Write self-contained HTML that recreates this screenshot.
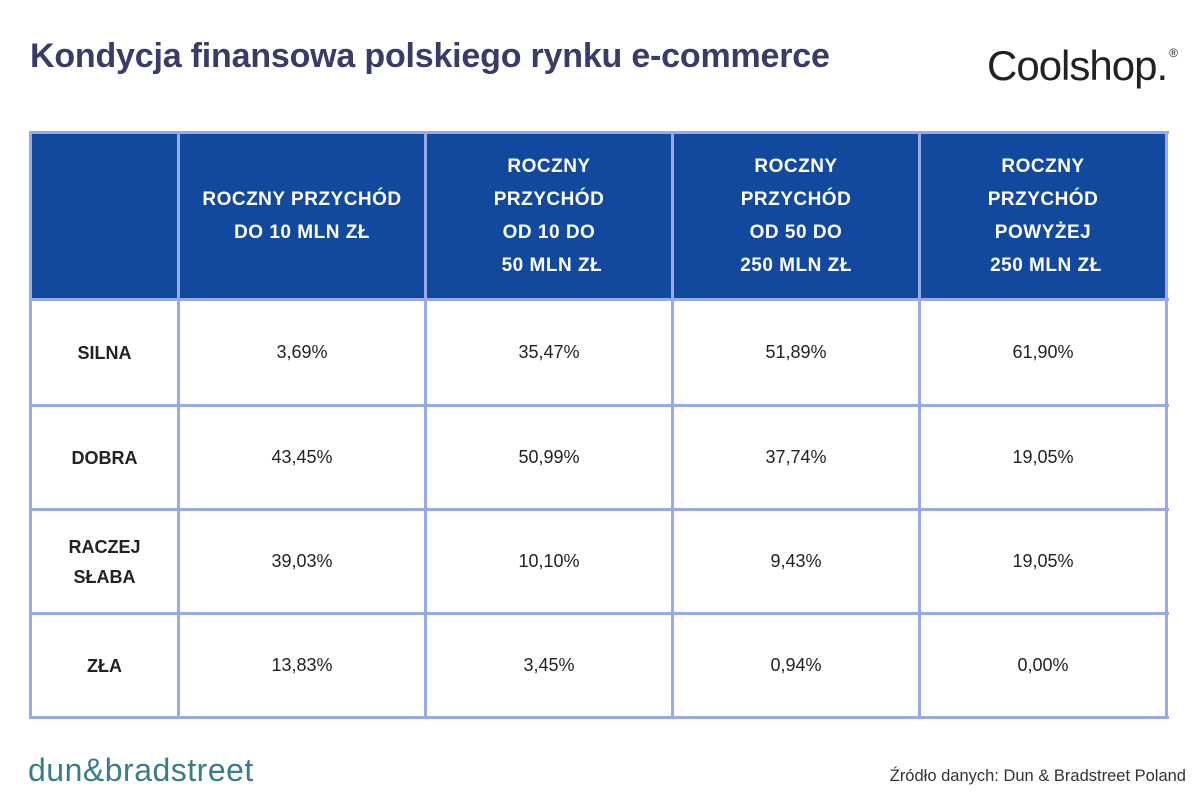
<!DOCTYPE html>
<html><head><meta charset="utf-8"><style>
body{margin:0;width:1200px;height:800px;background:#fff;position:relative;overflow:hidden;font-family:"Liberation Sans",sans-serif}
.t{position:absolute;left:30px;top:37px;font-size:34px;font-weight:bold;color:#3b3b68;letter-spacing:-0.2px}
.logo{position:absolute;left:987px;top:42px;font-size:42px;color:#222;letter-spacing:-1px}
.logo sup{font-size:12px;vertical-align:top;position:relative;top:4px;margin-left:2px}
.hb{position:absolute;left:30px;top:132px;width:1137px;height:167px;background:#12499f}
.v{position:absolute;top:131px;height:588px;width:3px;background:#9aa9ea}
.h{position:absolute;left:29px;width:1140px;height:3px;background:#9aa9ea}
.c{position:absolute;display:flex;align-items:center;justify-content:center;text-align:center;font-size:18px;color:#222}
.hd{color:#fff;font-weight:bold;font-size:19px;line-height:33px;letter-spacing:0.5px}
.rl{font-weight:bold;line-height:30px}
.db{position:absolute;left:28px;top:752px;font-size:32px;color:#3a7c8a;letter-spacing:0.5px}
.src{position:absolute;right:14px;top:767px;font-size:16.5px;color:#333}
</style></head><body>
<div class="t">Kondycja finansowa polskiego rynku e-commerce</div>
<div class="logo">Coolshop.<sup>®</sup></div>
<div class="hb"></div>
<div class="v" style="left:29px"></div><div class="v" style="left:177px"></div><div class="v" style="left:424px"></div><div class="v" style="left:671px"></div><div class="v" style="left:918px"></div><div class="v" style="left:1165px"></div>
<div class="h" style="top:131px"></div><div class="h" style="top:298px"></div><div class="h" style="top:404px"></div><div class="h" style="top:508px"></div><div class="h" style="top:612px"></div><div class="h" style="top:716px"></div>

<div class="c hd" style="left:180px;top:134px;width:244px;height:164px">ROCZNY PRZYCHÓD<br>DO 10 MLN ZŁ</div>
<div class="c hd" style="left:427px;top:134px;width:244px;height:164px">ROCZNY<br>PRZYCHÓD<br>OD 10 DO<br>&nbsp;50 MLN ZŁ</div>
<div class="c hd" style="left:674px;top:134px;width:244px;height:164px">ROCZNY<br>PRZYCHÓD<br>OD 50 DO<br>250 MLN ZŁ</div>
<div class="c hd" style="left:921px;top:134px;width:244px;height:164px">ROCZNY<br>PRZYCHÓD<br>POWYŻEJ<br>&nbsp;250 MLN ZŁ</div>

<div class="c rl" style="left:32px;top:301px;width:145px;height:103px">SILNA</div>
<div class="c" style="left:180px;top:301px;width:244px;height:103px">3,69%</div>
<div class="c" style="left:427px;top:301px;width:244px;height:103px">35,47%</div>
<div class="c" style="left:674px;top:301px;width:244px;height:103px">51,89%</div>
<div class="c" style="left:921px;top:301px;width:244px;height:103px">61,90%</div>

<div class="c rl" style="left:32px;top:407px;width:145px;height:101px">DOBRA</div>
<div class="c" style="left:180px;top:407px;width:244px;height:101px">43,45%</div>
<div class="c" style="left:427px;top:407px;width:244px;height:101px">50,99%</div>
<div class="c" style="left:674px;top:407px;width:244px;height:101px">37,74%</div>
<div class="c" style="left:921px;top:407px;width:244px;height:101px">19,05%</div>

<div class="c rl" style="left:32px;top:511px;width:145px;height:101px">RACZEJ<br>SŁABA</div>
<div class="c" style="left:180px;top:511px;width:244px;height:101px">39,03%</div>
<div class="c" style="left:427px;top:511px;width:244px;height:101px">10,10%</div>
<div class="c" style="left:674px;top:511px;width:244px;height:101px">9,43%</div>
<div class="c" style="left:921px;top:511px;width:244px;height:101px">19,05%</div>

<div class="c rl" style="left:32px;top:615px;width:145px;height:101px">ZŁA</div>
<div class="c" style="left:180px;top:615px;width:244px;height:101px">13,83%</div>
<div class="c" style="left:427px;top:615px;width:244px;height:101px">3,45%</div>
<div class="c" style="left:674px;top:615px;width:244px;height:101px">0,94%</div>
<div class="c" style="left:921px;top:615px;width:244px;height:101px">0,00%</div>

<div class="db">dun&amp;bradstreet</div>
<div class="src">Źródło danych: Dun &amp; Bradstreet Poland</div>
</body></html>
